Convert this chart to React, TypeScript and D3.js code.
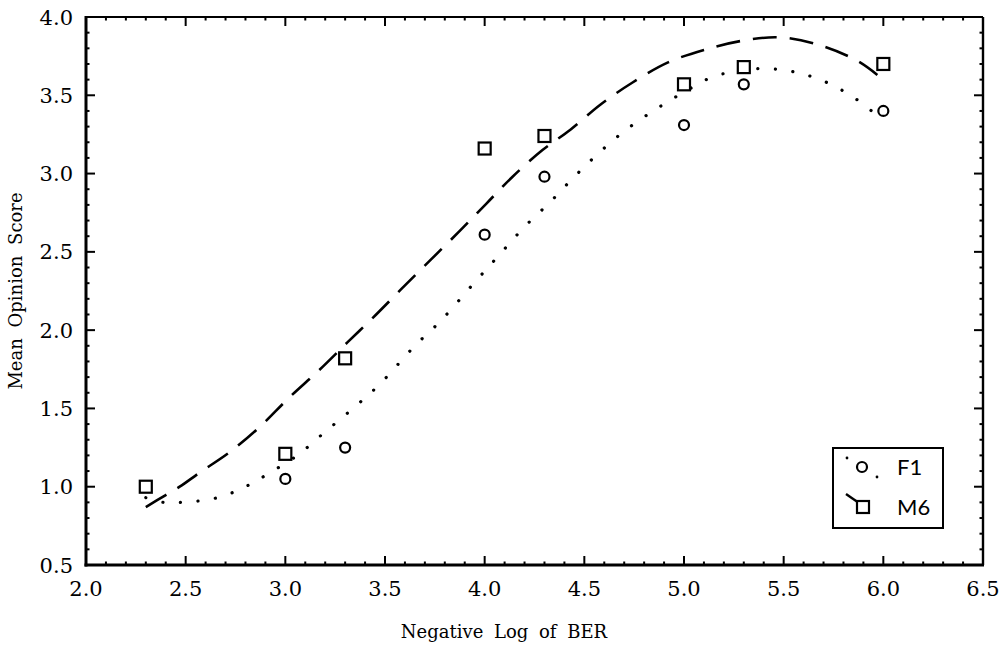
import React from "react";
import * as d3 from "d3";

const xTickValues = [2.0, 2.5, 3.0, 3.5, 4.0, 4.5, 5.0, 5.5, 6.0, 6.5];
const yTickValues = [0.5, 1.0, 1.5, 2.0, 2.5, 3.0, 3.5, 4.0];

const f1X = [3.0, 3.3, 4.0, 4.3, 5.0, 5.3, 6.0];
const f1Y = [1.05, 1.25, 2.61, 2.98, 3.31, 3.57, 3.40];
const m6X = [2.3, 3.0, 3.3, 4.0, 4.3, 5.0, 5.3, 6.0];
const m6Y = [1.0, 1.21, 1.82, 3.16, 3.24, 3.57, 3.68, 3.70];

// fitted curves
const m6FitX = [2.3, 2.4, 2.47, 2.57, 2.72, 2.87, 3.02, 3.17, 3.31, 3.44, 3.58, 3.73, 3.88, 4.01, 4.14, 4.29, 4.43, 4.58, 4.74, 4.92, 5.1, 5.3, 5.48, 5.68, 5.87, 5.97];
const m6FitY = [0.87, 0.947, 1.0, 1.09, 1.22, 1.38, 1.57, 1.745, 1.92, 2.08, 2.26, 2.45, 2.64, 2.81, 2.98, 3.15, 3.28, 3.44, 3.58, 3.71, 3.79, 3.85, 3.87, 3.82, 3.72, 3.63];
const f1FitX = [2.3, 2.39, 2.48, 2.57, 2.66, 2.75, 2.83, 2.91, 3.06, 3.19, 3.33, 3.47, 3.65, 3.78, 3.96, 4.08, 4.2, 4.33, 4.45, 4.58, 4.72, 4.87, 5.0, 5.15, 5.37, 5.55, 5.72, 5.87, 5.95];
const f1FitY = [0.93, 0.9, 0.9, 0.91, 0.93, 0.97, 1.02, 1.08, 1.2, 1.34, 1.49, 1.65, 1.9, 2.06, 2.32, 2.49, 2.66, 2.82, 2.98, 3.14, 3.29, 3.42, 3.52, 3.62, 3.67, 3.65, 3.58, 3.47, 3.39];

const legendLabels = ["F1", "M6"];

const W = 1005, H = 646;
const L = 86, R = 983, T = 17, B = 565;
const SERIF = '"DejaVu Serif", "Liberation Serif", serif';
const SANS = 'Lato, "Liberation Sans", sans-serif';

export default function App() {
  const x = d3.scaleLinear().domain([2.0, 6.5]).range([L, R]);
  const y = d3.scaleLinear().domain([0.5, 4.0]).range([B, T]);
  const minorX = d3.range(2.0, 6.5001, 0.1).map((v) => +v.toFixed(2)).filter((v) => !xTickValues.some((t) => Math.abs(t - v) < 1e-6));
  const minorY = d3.range(0.5, 4.0001, 0.1).map((v) => +v.toFixed(2)).filter((v) => !yTickValues.some((t) => Math.abs(t - v) < 1e-6));
  const line = d3.line<[number, number]>().x((d) => x(d[0])).y((d) => y(d[1])).curve(d3.curveCatmullRom.alpha(0.5));
  const m6Path = line(m6FitX.map((v, i) => [v, m6FitY[i]]) as [number, number][]) || "";
  const f1Path = line(f1FitX.map((v, i) => [v, f1FitY[i]]) as [number, number][]) || "";
  const serifStyle = { fontFamily: SERIF };
  return (
    <svg width={W} height={H} style={{ position: "absolute", left: 0, top: 0, background: "#fff" }}>
      <rect x={0} y={0} width={W} height={H} fill="#fff" />
      {/* curves */}
      <path d={m6Path} fill="none" stroke="#000" strokeWidth={2.6} strokeDasharray="24 13" />
      <path d={f1Path} fill="none" stroke="#000" strokeWidth={3.2} strokeDasharray="0.1 17.5" strokeLinecap="round" />
      {/* markers */}
      {f1X.map((v, i) => (
        <circle key={"c" + i} cx={x(v)} cy={y(f1Y[i])} r={5} fill="#fff" stroke="#000" strokeWidth={2.2} />
      ))}
      {m6X.map((v, i) => (
        <rect key={"s" + i} x={x(v) - 6} y={y(m6Y[i]) - 6} width={12} height={12} fill="#fff" stroke="#000" strokeWidth={2.2} />
      ))}
      {/* frame */}
      <line x1={L} x2={R} y1={T} y2={T} stroke="#000" strokeWidth={2} />
      <line x1={R} x2={R} y1={T} y2={B} stroke="#000" strokeWidth={2.4} />
      <line x1={L} x2={L} y1={T - 1} y2={B + 1.5} stroke="#000" strokeWidth={3} />
      <line x1={L - 1.5} x2={R + 1} y1={B} y2={B} stroke="#000" strokeWidth={3} />
      {/* major ticks */}
      {xTickValues.map((v) => (
        <g key={"xt" + v}>
          <line x1={x(v)} x2={x(v)} y1={B} y2={B - 9} stroke="#000" strokeWidth={2} />
          <line x1={x(v)} x2={x(v)} y1={T} y2={T + 9} stroke="#000" strokeWidth={2} />
          <text x={x(v)} y={596} textAnchor="middle" fontSize={21} style={serifStyle}>{v.toFixed(1)}</text>
        </g>
      ))}
      {yTickValues.map((v) => (
        <g key={"yt" + v}>
          <line x1={L} x2={L + 9} y1={y(v)} y2={y(v)} stroke="#000" strokeWidth={2} />
          <line x1={R} x2={R - 9} y1={y(v)} y2={y(v)} stroke="#000" strokeWidth={2} />
          <text x={73} y={y(v)} dy="0.36em" textAnchor="end" fontSize={21} style={serifStyle}>{v.toFixed(1)}</text>
        </g>
      ))}
      {/* minor ticks */}
      {minorX.map((v) => (
        <g key={"mx" + v}>
          <line x1={x(v)} x2={x(v)} y1={B} y2={B - 3.5} stroke="#000" strokeWidth={2} />
          <line x1={x(v)} x2={x(v)} y1={T} y2={T + 3.5} stroke="#000" strokeWidth={2} />
        </g>
      ))}
      {minorY.map((v) => (
        <g key={"my" + v}>
          <line x1={L} x2={L + 3.5} y1={y(v)} y2={y(v)} stroke="#000" strokeWidth={2} />
          <line x1={R} x2={R - 3.5} y1={y(v)} y2={y(v)} stroke="#000" strokeWidth={2} />
        </g>
      ))}
      {/* axis titles */}
      <text x={504} y={638} textAnchor="middle" fontSize={18} wordSpacing={5} style={serifStyle}>Negative Log of BER</text>
      <text transform={`translate(22, ${(T + B) / 2}) rotate(-90)`} textAnchor="middle" fontSize={18} wordSpacing={5} style={serifStyle}>Mean Opinion Score</text>
      {/* legend */}
      <rect x={833} y={448} width={110} height={80} fill="#fff" stroke="#000" strokeWidth={2} />
      <circle cx={847} cy={458} r={1.4} fill="#000" />
      <circle cx={877} cy={477} r={1.4} fill="#000" />
      <circle cx={862} cy={467} r={5} fill="#fff" stroke="#000" strokeWidth={2.2} />
      <line x1={846} x2={859} y1={494} y2={503} stroke="#000" strokeWidth={2.4} />
      <rect x={857} y={501} width={12} height={12} fill="#fff" stroke="#000" strokeWidth={2.2} />
      <text x={897} y={475} fontSize={22} style={{ fontFamily: SANS }}>{legendLabels[0]}</text>
      <text x={897} y={515} fontSize={22} style={{ fontFamily: SANS }}>{legendLabels[1]}</text>
    </svg>
  );
}
